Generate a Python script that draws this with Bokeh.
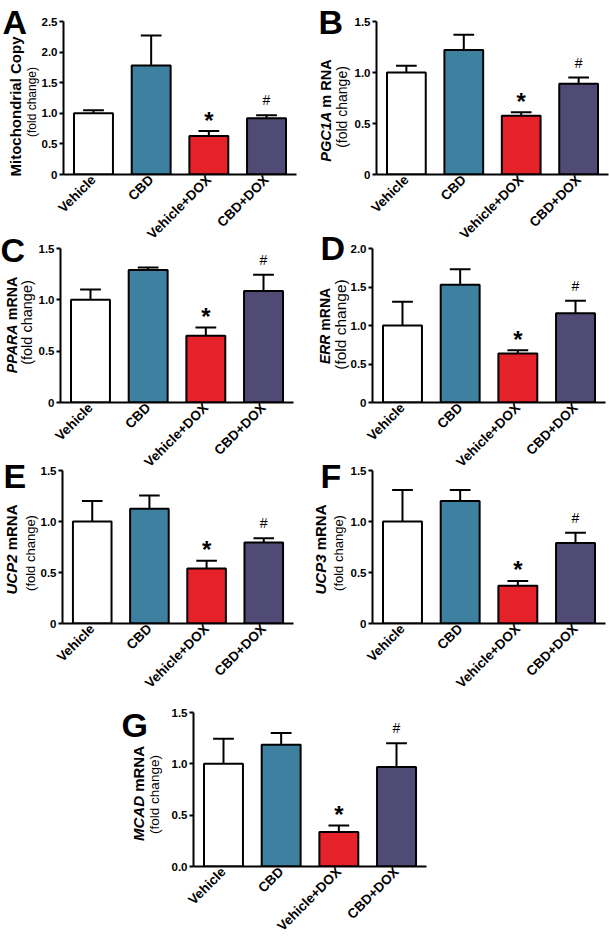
import numpy as np
from bokeh.plotting import figure
from bokeh.models import ColumnDataSource, FixedTicker, PrintfTickFormatter, Range1d, Spacer
from bokeh.layouts import row, column
from bokeh.embed import file_html
from bokeh.resources import INLINE
from bokeh.core.properties import value

# ---------------- data ----------------
categories = ["Vehicle", "CBD", "Vehicle+DOX", "CBD+DOX"]
bar_colors = ["#ffffff", "#3d80a0", "#e52129", "#4f4b75"]
signif_star = ["", "", "*", ""]
signif_hash = ["", "", "", "#"]

a_mean = [1.00, 1.78, 0.63, 0.92]
a_sem = [0.05, 0.49, 0.08, 0.05]
a_ticks = [0, 0.5, 1.0, 1.5, 2.0, 2.5]
a_tick_labels = ["0", "0.5", "1.0", "1.5", "2.0", "2.5"]

b_mean = [1.00, 1.22, 0.575, 0.89]
b_sem = [0.065, 0.15, 0.035, 0.06]
b_ticks = [0, 0.5, 1.0, 1.5]
b_tick_labels = ["0", "0.5", "1.0", "1.5"]

c_mean = [1.00, 1.29, 0.65, 1.085]
c_sem = [0.10, 0.025, 0.08, 0.16]
c_ticks = [0, 0.5, 1.0, 1.5]
c_tick_labels = ["0", "0.5", "1.0", "1.5"]

d_mean = [1.00, 1.53, 0.635, 1.16]
d_sem = [0.31, 0.20, 0.045, 0.16]
d_ticks = [0, 0.5, 1.0, 1.5, 2.0]
d_tick_labels = ["0", "0.5", "1.0", "1.5", "2.0"]

e_mean = [1.00, 1.125, 0.54, 0.795]
e_sem = [0.20, 0.13, 0.075, 0.04]
e_ticks = [0, 0.5, 1.0, 1.5]
e_tick_labels = ["0", "0.5", "1.0", "1.5"]

f_mean = [1.00, 1.20, 0.37, 0.79]
f_sem = [0.31, 0.11, 0.047, 0.10]
f_ticks = [0, 0.5, 1.0, 1.5]
f_tick_labels = ["0", "0.5", "1.0", "1.5"]

g_mean = [1.00, 1.185, 0.335, 0.97]
g_sem = [0.245, 0.115, 0.065, 0.23]
g_ticks = [0, 0.5, 1.0, 1.5]
g_tick_labels = ["0.0", "0.5", "1.0", "1.5"]

panel_letters = ["A", "B", "C", "D", "E", "F", "G"]
ylabel_gene = ["", "PGC1A", "PPARA", "ERR", "UCP2", "UCP3", "MCAD"]
ylabel_rest = ["Mitochondrial Copy", "m RNA", "mRNA", "mRNA", "mRNA", "mRNA", "mRNA"]
ylabel_sub = "(fold change)"

# ---------------- layout helpers ----------------
FONT = "Liberation Sans"
PAGE_W, PAGE_H = 609, 938
W_BOLD = {" ": 278, "m": 889, "R": 722, "N": 722, "A": 722, "P": 667, "G": 778,
          "C": 722, "1": 556, "E": 667, "U": 722, "2": 556, "3": 556, "M": 833, "D": 722,
          "i": 278, "t": 333, "o": 611, "c": 556, "h": 611, "n": 611, "d": 611, "r": 389,
          "a": 556, "l": 278, "p": 611, "y": 556}


def tw(s, size):
    return sum(W_BOLD.get(ch, 600) for ch in s) / 1000.0 * size


def make_panel(mean, sem, ticks, tick_labels, ymax, canvas, frame):
    cx0, cy0, cx1, cy1 = canvas
    fx0, fy0, fx1, fy1 = frame
    p = figure(frame_width=fx1 - fx0, frame_height=fy1 - fy0,
               min_border_left=fx0 - cx0, min_border_right=cx1 - fx1,
               min_border_top=fy0 - cy0, min_border_bottom=cy1 - fy1,
               x_range=Range1d(-0.52, 3.52), y_range=Range1d(0, ymax),
               output_backend="svg", toolbar_location=None)
    p.border_fill_color = None
    p.background_fill_color = None
    p.outline_line_color = None
    p.xgrid.visible = False
    p.ygrid.visible = False

    xs = list(range(len(categories)))
    top = np.array(mean)
    etop = top + np.array(sem)
    xa = np.array(xs, dtype=float)
    src = ColumnDataSource(dict(x=xs, top=top, etop=etop, c0=xa - 0.18, c1=xa + 0.18,
                                color=bar_colors, star=signif_star, hash=signif_hash))
    p.segment(x0="x", y0="top", x1="x", y1="etop", source=src, line_color="black", line_width=2)
    p.segment(x0="c0", y0="etop", x1="c1", y1="etop", source=src, line_color="black", line_width=2)
    p.vbar(x="x", top="top", bottom=0, width=0.675, source=src, fill_color="color",
           line_color="black", line_width=2)
    p.text(x="x", y="etop", text="star", source=src, text_font=value(FONT),
           text_font_style="bold", text_font_size="24px", text_align="center",
           text_baseline="alphabetic", y_offset=-11, text_color="black")
    p.text(x="x", y="etop", text="hash", source=src, text_font=value(FONT),
           text_font_size="14px", text_align="center",
           text_baseline="alphabetic", y_offset=-15, text_color="black")

    xax = p.xaxis[0]
    xax.ticker = FixedTicker(ticks=xs)
    xax.major_label_overrides = {i: c for i, c in enumerate(categories)}
    xax.major_label_orientation = np.pi / 4
    xax.major_tick_line_color = None
    xax.minor_tick_line_color = None
    xax.major_tick_out = 0
    xax.major_tick_in = 0
    xax.axis_line_width = 2
    xax.axis_line_color = "black"
    xax.major_label_standoff = 3
    xax.major_label_text_font = FONT
    xax.major_label_text_font_style = "bold"
    xax.major_label_text_font_size = "13.5px"
    xax.major_label_text_color = "black"

    ya = p.yaxis[0]
    ya.ticker = FixedTicker(ticks=ticks)
    ya.formatter = PrintfTickFormatter(format="%.1f")
    ya.major_label_overrides = {t: l for t, l in zip(ticks, tick_labels)}
    ya.minor_tick_line_color = None
    ya.major_tick_out = 4
    ya.major_tick_in = 0
    ya.major_tick_line_width = 2
    ya.axis_line_width = 2
    ya.axis_line_color = "black"
    ya.major_label_standoff = 2
    ya.major_label_text_font = FONT
    ya.major_label_text_font_style = "bold"
    ya.major_label_text_font_size = "11.5px"
    ya.major_label_text_color = "black"
    return p


ROW1, ROW2, ROW3, ROW4 = (0, 252), (226, 482), (452, 706), (700, 938)

pA = make_panel(a_mean, a_sem, a_ticks, a_tick_labels, 2.5, (0, 0, 300, 252), (63, 21, 296, 174))
pB = make_panel(b_mean, b_sem, b_ticks, b_tick_labels, 1.5, (300, 0, 609, 252), (376, 18, 608, 171))
pC = make_panel(c_mean, c_sem, c_ticks, c_tick_labels, 1.5, (0, 226, 300, 482), (60, 248, 293, 402))
pD = make_panel(d_mean, d_sem, d_ticks, d_tick_labels, 2.0, (300, 226, 609, 482), (372, 248, 605, 402))
pE = make_panel(e_mean, e_sem, e_ticks, e_tick_labels, 1.5, (0, 452, 300, 706), (62, 470, 293, 623))
pF = make_panel(f_mean, f_sem, f_ticks, f_tick_labels, 1.5, (300, 452, 609, 706), (372, 470, 605, 623))
pG = make_panel(g_mean, g_sem, g_ticks, g_tick_labels, 1.5, (110, 700, 480, 938), (193, 712, 426, 866))

# ---------------- text overlay (panel letters and y-axis titles) ----------------
ov = figure(width=PAGE_W, height=PAGE_H, x_range=Range1d(0, PAGE_W), y_range=Range1d(PAGE_H, 0),
            x_axis_location=None, y_axis_location=None, min_border=0,
            output_backend="svg", toolbar_location=None)
ov.border_fill_color = None
ov.background_fill_color = None
ov.outline_line_color = None
ov.xgrid.visible = False
ov.ygrid.visible = False

letter_pos = [(2, 17), (318, 17), (0, 245), (320, 243), (3, 471), (320, 471), (121, 720)]
for letter, (lx, ly) in zip(panel_letters, letter_pos):
    ov.text(x=[lx], y=[ly], text=[letter], text_font=value(FONT), text_font_style="bold",
            text_font_size="34px", text_align="left", text_baseline="middle", text_color="black")

# (line1 x, line1 y centre, size), (line2 x, line2 y centre, size)
ylab_pos = [((15, 102, 15), (31, 97.5, 12)),
            ((325, 106, 14.5), (341, 102.5, 14)),
            ((11.5, 321, 14.3), (26, 318, 14.5)),
            ((324, 321.5, 14), (340, 320, 15.5)),
            ((11, 545, 15), (30, 548.5, 13)),
            ((320, 545, 15), (338, 548.5, 13)),
            ((138, 789, 15), (154, 790, 13.5))]

for gene, rest, ((x1, y1, s1), (x2, y2, s2)) in zip(ylabel_gene, ylabel_rest, ylab_pos):
    gw = tw(gene, s1)
    sp = tw(" ", s1) if gene else 0.0
    L = gw + sp + tw(rest, s1)
    bottom = y1 + L / 2          # page y grows downwards; text reads upwards
    split = bottom - gw
    if gene:
        ov.text(x=[x1], y=[split], text=[gene], angle=np.pi / 2, text_font=value(FONT),
                text_font_style="bold italic", text_font_size=f"{s1}px",
                text_align="right", text_baseline="middle", text_color="black")
    ov.text(x=[x1], y=[split - sp], text=[rest], angle=np.pi / 2,
            text_font=value(FONT), text_font_style="bold", text_font_size=f"{s1}px",
            text_align="left", text_baseline="middle", text_color="black")
    ov.text(x=[x2], y=[y2], text=[ylabel_sub], angle=np.pi / 2, text_font=value(FONT),
            text_font_style="normal", text_font_size=f"{s2}px",
            text_align="center", text_baseline="middle", text_color="black")

r1 = row(pA, pB)
r2 = row(pC, pD, margin=(ROW2[0] - ROW1[1], 0, 0, 0))
r3 = row(pE, pF, margin=(ROW3[0] - ROW2[1], 0, 0, 0))
r4 = row(Spacer(width=110, height=10), pG, margin=(ROW4[0] - ROW3[1], 0, 0, 0))
ov.margin = (-PAGE_H, 0, 0, 0)
layout = column(r1, r2, r3, r4, ov)

open("out.html", "w").write(file_html(layout, INLINE))
